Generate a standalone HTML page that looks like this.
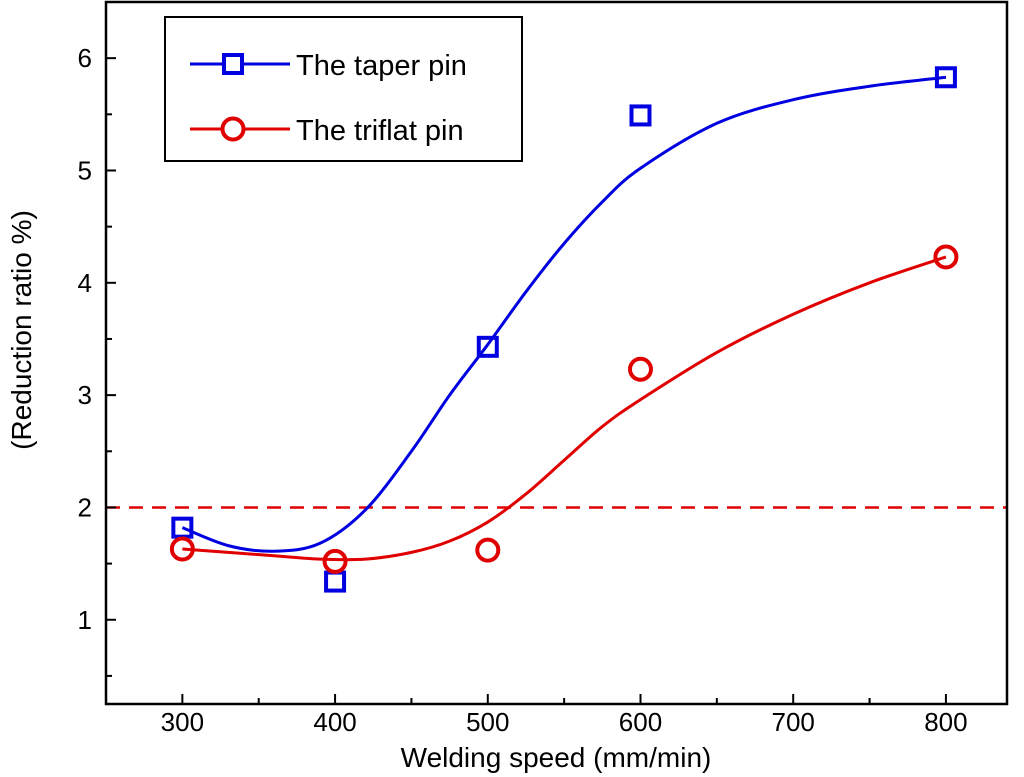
<!DOCTYPE html>
<html><head><meta charset="utf-8"><style>
html,body{margin:0;padding:0;background:#fff;}
svg{display:block;font-family:"Liberation Sans",Arial,sans-serif;}
</style></head><body>
<svg id="chart" width="1024" height="777" viewBox="0 0 1024 777" xmlns="http://www.w3.org/2000/svg">
<g id="grid"></g>
<g id="series"></g>
<rect x="106" y="2" width="901" height="702" fill="none" stroke="#000" stroke-width="2.5"/>
<g id="axes"></g>
<text x="556" y="767" font-size="28" text-anchor="middle">Welding speed (mm/min)</text>
<text transform="translate(31,330) rotate(-90)" font-size="28" text-anchor="middle">(Reduction ratio %)</text>
<g>
<rect x="165" y="17" width="357" height="144" fill="#fff" stroke="#000" stroke-width="2"/>
<g>
<line x1="190" y1="64" x2="290" y2="64" stroke="#0000e0" stroke-width="3"/>
<rect x="224" y="55" width="18" height="18" fill="#fff" stroke="#0000e0" stroke-width="4"/>
<text x="296" y="75" font-size="29">The taper pin</text></g>
<g>
<line x1="190" y1="129" x2="290" y2="129" stroke="#e00000" stroke-width="3"/>
<circle cx="233" cy="129" r="10.5" fill="#fff" stroke="#e00000" stroke-width="4"/>
<text x="296" y="140" font-size="29">The triflat pin</text></g>
</g>
</svg>
<script>
const xTicks=[300,400,500,600,700,800];
const yTicks=[1,2,3,4,5,6];
const taperX=[300,400,500,600,800];
const taperY=[1.82,1.34,3.43,5.49,5.83];
const triflatX=[300,400,500,600,800];
const triflatY=[1.63,1.52,1.62,3.23,4.23];
const fitX=[300,330,360,390,420,450,475,500,525,550,575,600,650,700,750,800];
const taperFit=[1.82,1.66,1.61,1.68,1.98,2.5,3.0,3.45,3.92,4.35,4.72,5.02,5.42,5.63,5.75,5.83];
const triflatFit=[1.63,1.6,1.57,1.54,1.54,1.6,1.7,1.87,2.12,2.42,2.72,2.96,3.38,3.72,4.0,4.23];
const threshold=2;
const X0=250,X1=840,Y0=0.25,Y1=6.5,L=106,R=1007,T=2,B=704;
const sx=v=>L+(v-X0)/(X1-X0)*(R-L);
const sy=v=>B-(v-Y0)/(Y1-Y0)*(B-T);
const NS="http://www.w3.org/2000/svg";
function mk(tag,attrs,parent){const e=document.createElementNS(NS,tag);for(const k in attrs)e.setAttribute(k,attrs[k]);parent.appendChild(e);return e;}
const axes=document.getElementById('axes'),ser=document.getElementById('series');
xTicks.forEach(v=>{
 const t=mk('line',{x1:sx(v),x2:sx(v),y1:B,y2:B-10,stroke:'#000','stroke-width':2},axes);
 
 
 const m=mk('line',{x1:sx(v-50),x2:sx(v-50),y1:B,y2:B-6,stroke:'#000','stroke-width':2},axes);
 
 
 const l=mk('text',{x:sx(v),y:B+27,'font-size':26,'text-anchor':'middle'},axes);l.textContent=v;
 
 
});
[750,850].forEach(v=>{if(sx(v)<R){const m=mk('line',{x1:sx(v),x2:sx(v),y1:B,y2:B-6,stroke:'#000','stroke-width':2},axes);
 
 }});
yTicks.forEach(v=>{
 const t=mk('line',{x1:L,x2:L+10,y1:sy(v),y2:sy(v),stroke:'#000','stroke-width':2},axes);
 
 
 const m=mk('line',{x1:L,x2:L+6,y1:sy(v-0.5),y2:sy(v-0.5),stroke:'#000','stroke-width':2},axes);
 
 
 const l=mk('text',{x:L-14,y:sy(v)+9,'font-size':26,'text-anchor':'end'},axes);l.textContent=v;
 
 
});
const d=mk('line',{x1:L,x2:R,y1:sy(threshold),y2:sy(threshold),stroke:'#e00000','stroke-width':2.5,'stroke-dasharray':'14,9'},ser);


function smooth(xs,ys){const p=xs.map((x,i)=>[sx(x),sy(ys[i])]);let s=`M${p[0][0]},${p[0][1]}`;
 for(let i=0;i<p.length-1;i++){const p0=p[i-1]||p[i],p1=p[i],p2=p[i+1],p3=p[i+2]||p2;
 s+=` C${p1[0]+(p2[0]-p0[0])/6},${p1[1]+(p2[1]-p0[1])/6} ${p2[0]-(p3[0]-p1[0])/6},${p2[1]-(p3[1]-p1[1])/6} ${p2[0]},${p2[1]}`;}return s;}
const f1=mk('path',{d:smooth(fitX,taperFit),fill:'none',stroke:'#0000e0','stroke-width':3},ser);


const f2=mk('path',{d:smooth(fitX,triflatFit),fill:'none',stroke:'#e00000','stroke-width':3},ser);


taperX.forEach((x,i)=>{const r=mk('rect',{x:sx(x)-9,y:sy(taperY[i])-9,width:18,height:18,fill:'none',stroke:'#0000e0','stroke-width':4},ser);
 
 });
triflatX.forEach((x,i)=>{const c=mk('circle',{cx:sx(x),cy:sy(triflatY[i]),r:10.5,fill:'none',stroke:'#e00000','stroke-width':4},ser);
 
 });
</script>
</body></html>
